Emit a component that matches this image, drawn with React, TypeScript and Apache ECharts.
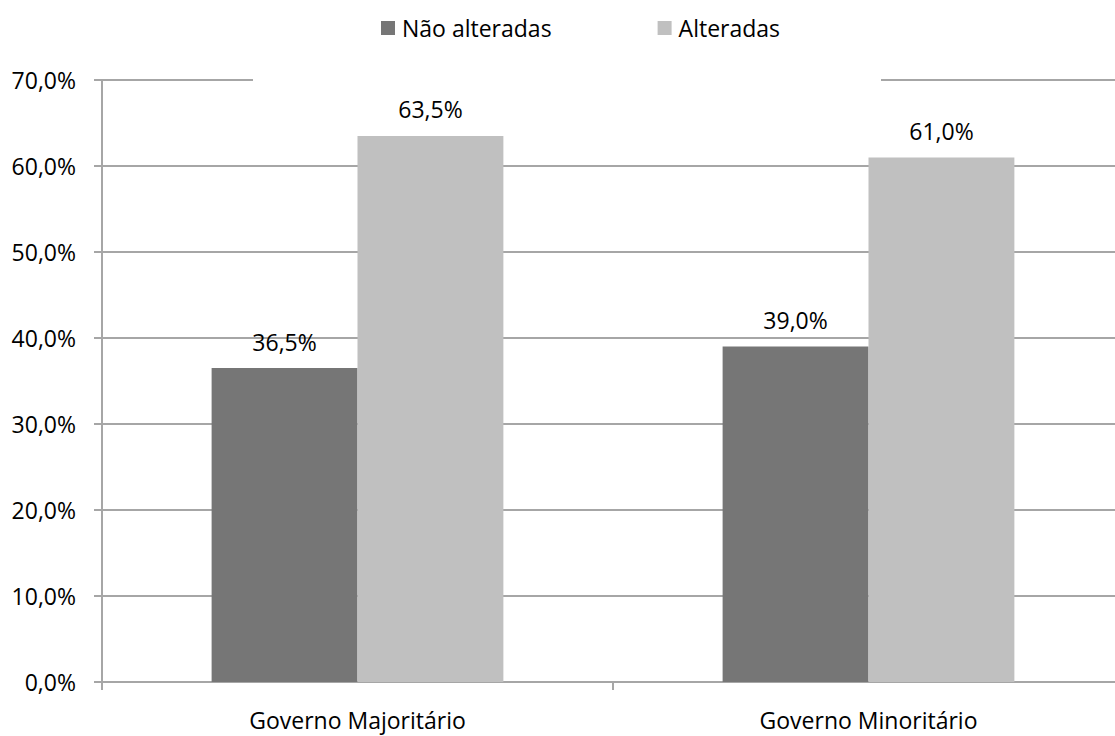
import React, { useEffect, useRef } from "react";
import * as echarts from "echarts";

// Chart data
const categories = ["Governo Majoritário", "Governo Minoritário"];
const seriesNames = ["Não alteradas", "Alteradas"];
const naoAlteradas = [36.5, 39.0];
const alteradas = [63.5, 61.0];
const yTicks = { min: 0, max: 70, interval: 10 };

const FONT = "'Open Sans', 'Noto Sans', sans-serif";
const FONT_SIZE = 23;
const DARK = "#767676";
const LIGHT = "#c0c0c0";
const LINE = "#a6a6a6";

const pct = (v: number) => v.toFixed(1).replace(".", ",") + "%";

export default function App() {
  const ref = useRef<HTMLDivElement>(null);

  useEffect(() => {
    if (!ref.current) return;
    const chart = echarts.init(ref.current, undefined, { renderer: "svg" });
    const label = {
      show: true,
      position: "top" as const,
      distance: 15,
      color: "#000",
      fontFamily: FONT,
      fontSize: FONT_SIZE,
      formatter: (p: any) => pct(p.value),
    };
    chart.setOption({
      animation: false,
      backgroundColor: "#fff",
      textStyle: { fontFamily: FONT },
      // plot area runs a little past the right edge of the frame
      grid: { left: 102, right: 0, top: 80, bottom: 54, containLabel: false },
      legend: {
        data: seriesNames,
        left: 381,
        top: 15,
        padding: 0,
        itemGap: 106,
        itemWidth: 14,
        itemHeight: 14,
        icon: "rect",
        textStyle: { fontFamily: FONT, fontSize: FONT_SIZE, color: "#000", padding: [0, 0, 0, 2], lineHeight: 26 },
        z: 10,
      },
      // white panel behind the legend, interrupting the top gridline
      graphic: [
        {
          type: "rect",
          left: 253,
          top: 0,
          shape: { width: 628, height: 84 },
          style: { fill: "#fff" },
          z: 5,
        },
      ],
      xAxis: {
        type: "category",
        data: categories,
        axisLine: { show: true, lineStyle: { color: LINE, width: 2 } },
        axisTick: { show: true, length: 8, alignWithLabel: false, lineStyle: { color: LINE, width: 2 } },
        axisLabel: { color: "#000", fontFamily: FONT, fontSize: FONT_SIZE, margin: 26 },
        splitLine: { show: false },
      },
      yAxis: {
        type: "value",
        min: yTicks.min,
        max: yTicks.max,
        interval: yTicks.interval,
        axisLine: { show: true, lineStyle: { color: LINE, width: 2 } },
        axisTick: { show: true, length: 8, lineStyle: { color: LINE, width: 2 } },
        axisLabel: {
          color: "#000",
          fontFamily: FONT,
          fontSize: FONT_SIZE,
          margin: 26,
          formatter: (v: number) => pct(v),
        },
        splitLine: { show: true, lineStyle: { color: LINE, width: 2 } },
      },
      series: [
        {
          name: seriesNames[0],
          type: "bar",
          data: naoAlteradas,
          itemStyle: { color: DARK },
          barGap: "0%",
          barCategoryGap: "42.9%",
          label,
        },
        {
          name: seriesNames[1],
          type: "bar",
          data: alteradas,
          itemStyle: { color: LIGHT },
          barGap: "0%",
          barCategoryGap: "42.9%",
          label,
        },
      ],
    });
    return () => chart.dispose();
  }, []);

  return (
    <div
      ref={ref}
      style={{ position: "fixed", left: 0, top: 0, width: 1124, height: 736, background: "#fff" }}
    />
  );
}
